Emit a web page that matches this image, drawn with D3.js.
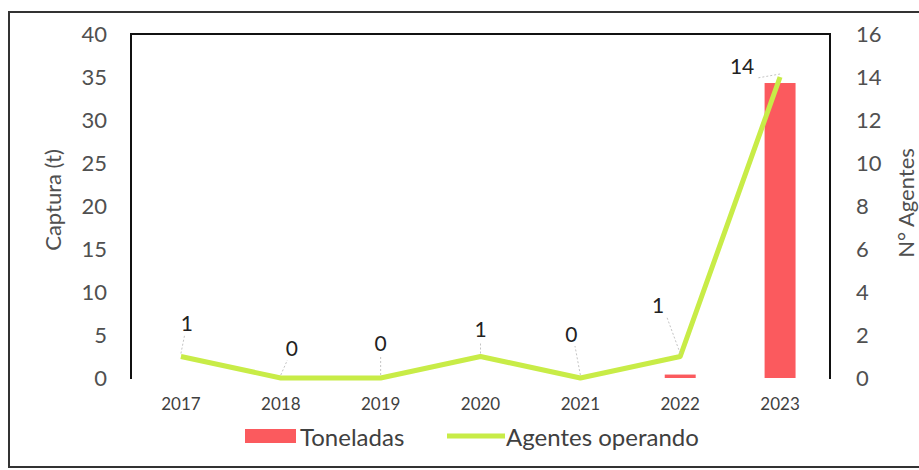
<!DOCTYPE html>
<html><head><meta charset="utf-8">
<script src="https://cdn.jsdelivr.net/npm/d3@7"></script>
<style>
body{margin:0;background:#fff;}
svg{display:block;font-family:Lato,"Open Sans",sans-serif;}
</style></head>
<body><svg id="c" width="919" height="470"></svg>
<script>
const years = ["2017","2018","2019","2020","2021","2022","2023"];
const toneladas = [0, 0, 0, 0, 0, 0.4, 34.3];
const agentes = [1, 0, 0, 1, 0, 1, 14];
const leftTicks = [0,5,10,15,20,25,30,35,40];
const rightTicks = [0,2,4,6,8,10,12,14,16];
// label offsets (dx, dy) relative to point, in px
const labelOffsets = [[6,-34],[11,-31],[0,-36],[0,-28],[-9,-45],[-22,-52],[-38,-12]];

const svg = d3.select("#c");
const L = 131, R = 830, T = 34, B = 378;

// outer frame
svg.append("path").attr("d","M919,12 H9 V467 H919").attr("fill","none").attr("stroke","#333").attr("stroke-width",2);

const x = d3.scaleBand().domain(years).range([L,R]).paddingInner(0.69).paddingOuter(0.345);
const xc = d => x(d) + x.bandwidth()/2;
const yL = d3.scaleLinear().domain([0,40]).range([B,T]);
const yR = d3.scaleLinear().domain([0,16]).range([B,T]);

// plot frame (top, left, right)
svg.append("path").attr("d",`M${L},${B+1} V${T} H${R} V${B+1}`).attr("fill","none").attr("stroke","#111").attr("stroke-width",2);

// left axis
const ga = svg.append("g").attr("transform",`translate(${L},0)`)
  .call(d3.axisLeft(yL).tickValues(leftTicks).tickSize(0).tickPadding(24));
ga.select(".domain").remove();
ga.selectAll("text").attr("font-size",22).attr("fill","#505050").attr("font-family","Lato");

const gr = svg.append("g").attr("transform",`translate(${R},0)`)
  .call(d3.axisRight(yR).tickValues(rightTicks).tickSize(0).tickPadding(26));
gr.select(".domain").remove();
gr.selectAll("text").attr("font-size",22).attr("fill","#505050").attr("font-family","Lato");

const gx = svg.append("g").attr("transform",`translate(0,${B})`)
  .call(d3.axisBottom(x).tickSize(0).tickPadding(20));
gx.select(".domain").remove();
gx.selectAll("text").attr("font-size",17).attr("fill","#404040").attr("font-family","Lato");

// axis titles
svg.append("text").attr("transform",`translate(52,200) rotate(-90)`).attr("text-anchor","middle")
  .attr("dominant-baseline","central").attr("font-size",22).attr("fill","#505050").text("Captura (t)");
svg.append("text").attr("transform",`translate(905,203) rotate(-90)`).attr("text-anchor","middle")
  .attr("dominant-baseline","central").attr("font-size",22).attr("fill","#505050").text("N° Agentes");

// bars
svg.append("g").selectAll("rect").data(years).join("rect")
  .attr("x", d => x(d)).attr("width", x.bandwidth())
  .attr("y", (d,i) => yL(toneladas[i])).attr("height", (d,i) => B - yL(toneladas[i]))
  .attr("fill","#fb5a5e");

// line
const line = d3.line().x((d,i)=>xc(years[i])).y(d=>yR(d));
svg.append("path").datum(agentes).attr("d",line).attr("fill","none")
  .attr("stroke","#c8ec47").attr("stroke-width",5).attr("stroke-linejoin","round");

// leader lines + labels
const lbl = svg.append("g");
agentes.forEach((v,i) => {
  const px = xc(years[i]), py = yR(v);
  const [dx,dy] = labelOffsets[i];
  lbl.append("line").attr("x1",px).attr("y1",py-3).attr("x2",px+dx*0.6).attr("y2",py+dy+13)
    .attr("stroke","#c4c4c4").attr("stroke-width",1).attr("stroke-dasharray","2,2");
  lbl.append("text").attr("x",px+dx).attr("y",py+dy).attr("text-anchor","middle")
    .attr("dominant-baseline","central").attr("font-size",21).attr("fill","#222").text(v);
});

// legend
const lg = svg.append("g");
lg.append("rect").attr("x",245).attr("y",429).attr("width",51).attr("height",14).attr("fill","#fb5a5e");
lg.append("text").attr("x",300).attr("y",436).attr("dominant-baseline","central").attr("font-size",24).attr("fill","#404040").text("Toneladas");
lg.append("line").attr("x1",447).attr("x2",505).attr("y1",436).attr("y2",436).attr("stroke","#c8ec47").attr("stroke-width",5);
lg.append("text").attr("x",506).attr("y",436).attr("dominant-baseline","central").attr("font-size",24).attr("fill","#404040").text("Agentes operando");
</script></body></html>
